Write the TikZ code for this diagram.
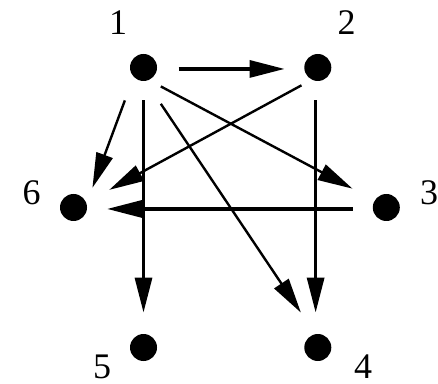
\documentclass[tikz,border=0pt]{standalone}
\usepackage{fontspec}
\setmainfont{Liberation Serif}
\usetikzlibrary{arrows.meta}
\colorlet{dgink}{black}
\tikzset{
  dgvertex/.style={circle,fill=dgink,inner sep=0pt,minimum size=13.5pt},
  dglabel/.style={font=\fontsize{18}{18}\selectfont,inner sep=0pt,text=dgink},
  dgedge/.style={-{Triangle[length=17.5pt,width=8.5pt]},line width=1.6pt,dgink},
  dgdiag/.style={dgedge,line width=1.2pt}
}
\begin{document}
\begin{tikzpicture}[x=0.5pt,y=-0.5pt]
  \useasboundingbox (0,0) rectangle (438,384);
  % vertices
  \node[dgvertex] (v1) at (143.5,67.5) {};
  \node[dgvertex] (v2) at (317.8,67.5) {};
  \node[dgvertex] (v3) at (386.3,207.5) {};
  \node[dgvertex] (v4) at (317.8,347.5) {};
  \node[dgvertex] (v5) at (143.5,347.5) {};
  \node[dgvertex] (v6) at (73.5,207.5) {};

  % vertex numbers
  \node[dglabel] (l1) at (118,22.5) {1};
  \node[dglabel] (l2) at (346.7,22.5) {2};
  \node[dglabel] (l3) at (429,193) {3};
  \node[dglabel] (l4) at (363,367) {4};
  \node[dglabel] (l5) at (102,367) {5};
  \node[dglabel] (l6) at (31.7,193) {6};

  % straight arcs
  \draw[dgedge,shorten <=10.6pt,shorten >=9.7pt] (v1.354) -- (v2.186);
  \draw[dgedge,shorten <=9.5pt,shorten >=10.5pt] (v1) -- (v5);
  \draw[dgedge,shorten <=9.6pt,shorten >=10.6pt] (v2.261) -- (v4.99);
  \draw[dgedge,shorten <=9.8pt,shorten >=9.9pt] (v3.186) -- (v6.354);

  % slanted arcs
  \draw[dgdiag,shorten <=12.4pt,shorten >=8.2pt] (v1.224) -- (v6.18);
  \draw[dgdiag,shorten <=6.6pt,shorten >=12.4pt] (v1.294) -- (v3.149);
  \draw[dgdiag,shorten <=13.6pt,shorten >=12.8pt] (v1.279) -- (v4.101);
  \draw[dgdiag,shorten <=5.7pt,shorten >=13pt] (v2.243) -- (v6.22);
\end{tikzpicture}
\end{document}
